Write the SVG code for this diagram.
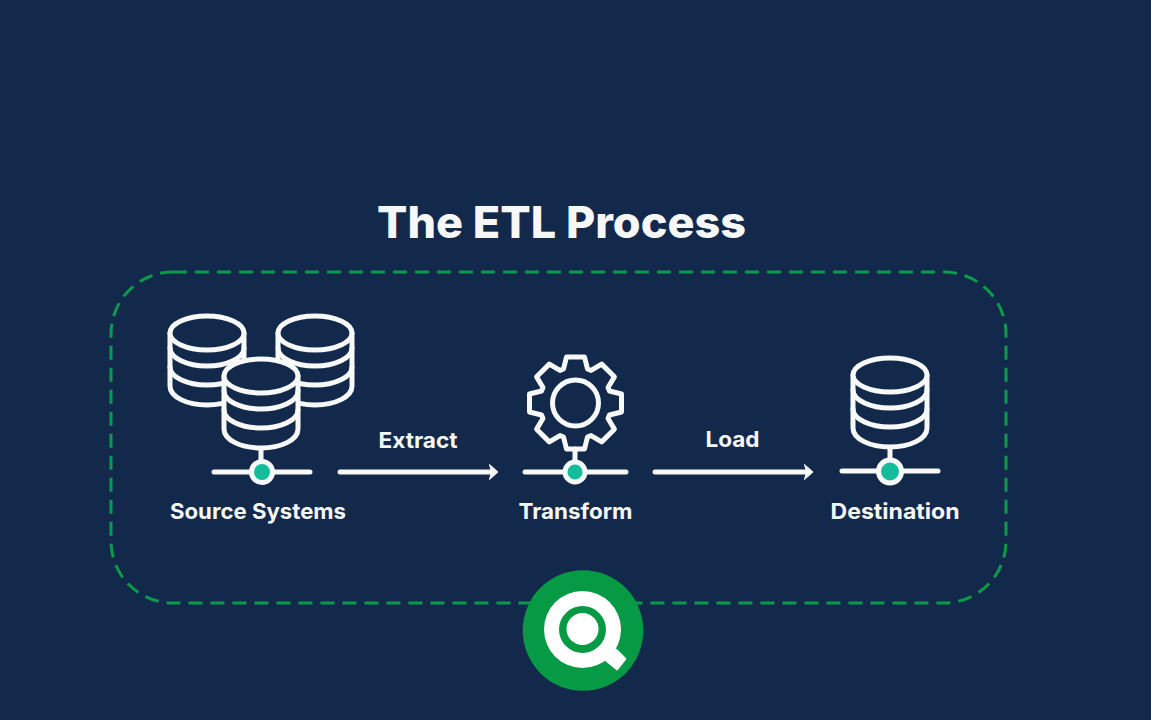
<svg xmlns="http://www.w3.org/2000/svg" width="1151" height="720" viewBox="0 0 1151 720">
<style>
.t{font-family:"Inter","Liberation Sans",sans-serif;font-weight:800;fill:#f6f7f7;text-anchor:middle}
.lbl{font-size:21.5px;font-weight:700}
.w{fill:none;stroke:#f7f8f8;stroke-width:5;stroke-linecap:round;stroke-linejoin:round}
.body{fill:#13294b;stroke:#f7f8f8;stroke-width:5;stroke-linejoin:round}
.dot{fill:#14bd9a;stroke:#f7f8f8;stroke-width:5}
</style>
<defs>
<g id="db">
<path class="body" d="M-37 0V53C-37 64 -20 72 0 72C20 72 37 64 37 53V0Z"/>
<ellipse class="body" cx="0" cy="0" rx="37" ry="17"/>
<path class="w" d="M-37 15C-37 25 -20 33 0 33C20 33 37 25 37 15M-37 34C-37 44 -20 52 0 52C20 52 37 44 37 34"/>
</g>
<marker id="arr" markerUnits="userSpaceOnUse" markerWidth="16" markerHeight="22" refX="4" refY="11" orient="auto">
<path d="M3.500 3.500L12 11L3.500 18.500L5.500 11Z" fill="#f7f8f8" stroke="#f7f8f8" stroke-width="1" stroke-linejoin="round"/>
</marker>
</defs>
<rect width="1151" height="720" fill="#13294b"/>
<text id="title" class="t" x="561.500" y="238" font-size="44" textLength="369" lengthAdjust="spacingAndGlyphs">The ETL Process</text>
<rect id="boundary" x="111" y="272" width="895" height="331" rx="62" ry="62" fill="none" stroke="#0b9a4a" stroke-width="3" stroke-dasharray="14 8"/>
<g id="connectors">
<path class="w" d="M340 472H490" stroke-width="4" marker-end="url(#arr)"/>
<path class="w" d="M655 472H805" stroke-width="4" marker-end="url(#arr)"/>
<text class="t lbl" x="418" y="448" textLength="79" lengthAdjust="spacingAndGlyphs">Extract</text>
<text class="t lbl" x="732.500" y="447" textLength="54" lengthAdjust="spacingAndGlyphs">Load</text>
</g>
<g id="source-systems">
<use href="#db" x="207" y="333"/>
<use href="#db" x="315" y="333"/>
<use href="#db" x="261" y="376"/>
<path class="w" d="M261 450V460M214 472H310"/>
<circle class="dot" cx="262" cy="472" r="10.500"/>
<text class="t lbl" x="258" y="519" textLength="176" lengthAdjust="spacingAndGlyphs">Source Systems</text>
</g>
<g id="transform">
<g transform="translate(575.500 403)">
<path class="w" d="M-12 -34L-9 -46L9 -46L12 -34L15.560 -32.530L26.160 -38.890L38.890 -26.160L32.530 -15.560L34 -12L46 -9L46 9L34 12L32.530 15.560L38.890 26.160L26.160 38.890L15.560 32.530L12 34L9 46L-9 46L-12 34L-15.560 32.530L-26.160 38.890L-38.890 26.160L-32.530 15.560L-34 12L-46 9L-46 -9L-34 -12L-32.530 -15.560L-38.890 -26.160L-26.160 -38.890L-15.560 -32.530Z"/>
<circle class="w" r="23"/>
</g>
<path class="w" d="M575 449V460M525 472H626"/>
<circle class="dot" cx="575" cy="472" r="10"/>
<text class="t lbl" x="575.500" y="519" textLength="114" lengthAdjust="spacingAndGlyphs">Transform</text>
</g>
<g id="destination">
<use href="#db" x="890" y="375"/>
<path class="w" d="M890 449V460M842 471H938"/>
<circle class="dot" cx="890" cy="471.500" r="11.500"/>
<text class="t lbl" x="895" y="519" textLength="129" lengthAdjust="spacingAndGlyphs">Destination</text>
</g>
<g id="logo">
<circle cx="583" cy="630.500" r="60.300" fill="#069a45"/>
<path d="M616 650L625 659L617 669L606 660Z" fill="#fff" stroke="#fff" stroke-width="2.500" stroke-linejoin="round"/>
<circle cx="582.500" cy="629.500" r="38.500" fill="#fff"/>
<circle cx="582.500" cy="629.500" r="23.500" fill="#069a45"/>
<circle cx="582.500" cy="629" r="16" fill="#fff"/>
</g>
</svg>
